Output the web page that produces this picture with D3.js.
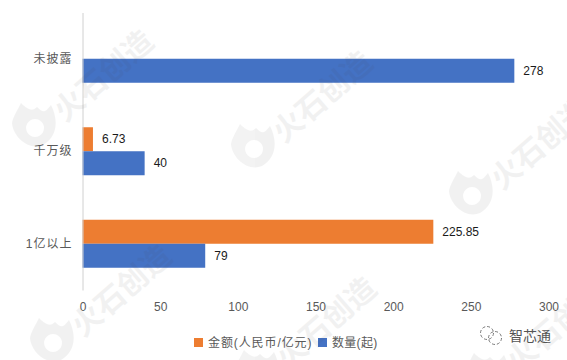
<!DOCTYPE html>
<html>
<head>
<meta charset="utf-8">
<script src="https://cdn.jsdelivr.net/npm/d3@7"></script>
<style>
  html, body { margin: 0; padding: 0; background: #fff; }
  svg { display: block; }
  text { font-family: "Liberation Sans", "Noto Sans CJK SC", sans-serif; }
</style>
</head>
<body>
<svg id="chart"></svg>
<script>
const width = 567;
const height = 360;
const margin = { top: 12.5, right: 18.5, bottom: 70, left: 82.5 };

const categories = ["未披露", "千万级", "1亿以上"];
const amount = [null, 6.73, 225.85];
const count = [278, 40, 79];
const xTicks = [0, 50, 100, 150, 200, 250, 300];
const seriesNames = ["金额(人民币/亿元)", "数量(起)"];
const seriesColors = ["#ed7d31", "#4472c4"];

const svg = d3.select("#chart").attr("width", width).attr("height", height);

const x = d3
  .scaleLinear()
  .domain([0, 300])
  .range([margin.left, width - margin.right]);

const y = d3
  .scaleBand()
  .domain(categories)
  .range([margin.top, height - margin.bottom]);

const inner = d3
  .scaleBand()
  .domain(["amount", "count"])
  .range([y.bandwidth() / 2 - 24, y.bandwidth() / 2 + 24]);

// bars
const rows = categories.map((c, i) => ({ c, amount: amount[i], count: count[i] }));

[["amount", seriesColors[0]], ["count", seriesColors[1]]].forEach(([key, color]) => {
  const d_ = rows.filter((d) => d[key] !== null);
  svg
    .append("g")
    .selectAll("rect")
    .data(d_)
    .join("rect")
    .attr("x", x(0))
    .attr("y", (d) => y(d.c) + inner(key))
    .attr("width", (d) => x(d[key]) - x(0))
    .attr("height", inner.bandwidth())
    .attr("fill", color);

  svg
    .append("g")
    .selectAll("text")
    .data(d_)
    .join("text")
    .attr("x", (d) => x(d[key]) + 9)
    .attr("y", (d) => y(d.c) + inner(key) + inner.bandwidth() / 2)
    .attr("dy", "0.35em")
    .attr("font-size", 12)
    .attr("fill", "#1a1a1a")
    .text((d) => d[key]);
});

// x axis, labels only
const xAxis = svg
  .append("g")
  .attr("transform", `translate(0,${height - margin.bottom})`)
  .call(d3.axisBottom(x).tickValues(xTicks).tickSize(0).tickPadding(12));
xAxis.select(".domain").remove();
xAxis.selectAll("text").attr("font-size", 12).attr("fill", "#595959").style("font-family", null);

// y axis
const yAxis = svg
  .append("g")
  .attr("transform", `translate(${margin.left},0)`)
  .call(d3.axisLeft(y).tickSize(0).tickPadding(10));
yAxis.select(".domain").attr("stroke", "#d0d0d0").attr("stroke-width", 1);
yAxis.selectAll("text")
  .attr("font-size", 12)
  .attr("fill", "#595959")
  .style("font-family", null)
  .style("letter-spacing", "1px");

// legend
const legend = svg.append("g").attr("font-size", 12).attr("fill", "#595959");
const legendX = [194, 318];
const legendSpacing = ["0.9px", "0.3px"];
seriesNames.forEach((name, i) => {
  legend.append("rect")
    .attr("x", legendX[i])
    .attr("y", 338)
    .attr("width", 9)
    .attr("height", 9)
    .attr("fill", seriesColors[i]);
  legend.append("text")
    .attr("x", legendX[i] + 14)
    .attr("y", 342.5)
    .attr("dy", "0.38em")
    .style("letter-spacing", legendSpacing[i])
    .text(name);
});

// watermark, cut by the picture edge like the original
const marks = [
  [37, 125], [256, 146], [474, 193], [55, 340], [260, 372], [490, 375],
];
const wm = svg.append("g").attr("pointer-events", "none");
marks.forEach(([mx, my]) => {
  const g = wm.append("g").attr("transform", `translate(${mx},${my})`).attr("opacity", 0.065);
  g.append("path")
    .attr("d", "M-16,-22 C-8,-14 -4,-14 0,-18 C6,-12 8,-12 14,-20 C22,-4 20,12 6,20 C-8,26 -24,12 -25,-2 C-24,-8 -20,-14 -16,-22 Z M-2,-6 A9,9 0 1,0 -1.9,-6 Z")
    .attr("fill", "#444")
    .attr("fill-rule", "evenodd");
  g.append("text")
    .attr("x", 28)
    .attr("y", -2)
    .attr("transform", "rotate(-41 28 -2)")
    .attr("font-size", 30)
    .attr("font-weight", "bold")
    .attr("fill", "#444")
    .style("font-family", "'Noto Sans CJK SC'")
    .text("火石创造");
});

// wechat mark
const logo = svg.append("g").attr("fill", "none").attr("stroke", "#777").attr("stroke-width", 1);
logo.append("circle").attr("cx", 487).attr("cy", 333).attr("r", 6.5).attr("stroke-dasharray", "3 2");
logo.append("circle").attr("cx", 495).attr("cy", 338).attr("r", 6.5).attr("stroke-dasharray", "3 2");
svg.append("text")
  .attr("x", 509)
  .attr("y", 341)
  .attr("font-size", 14)
  .attr("fill", "#555")
  .text("智芯通");
</script>
</body>
</html>
